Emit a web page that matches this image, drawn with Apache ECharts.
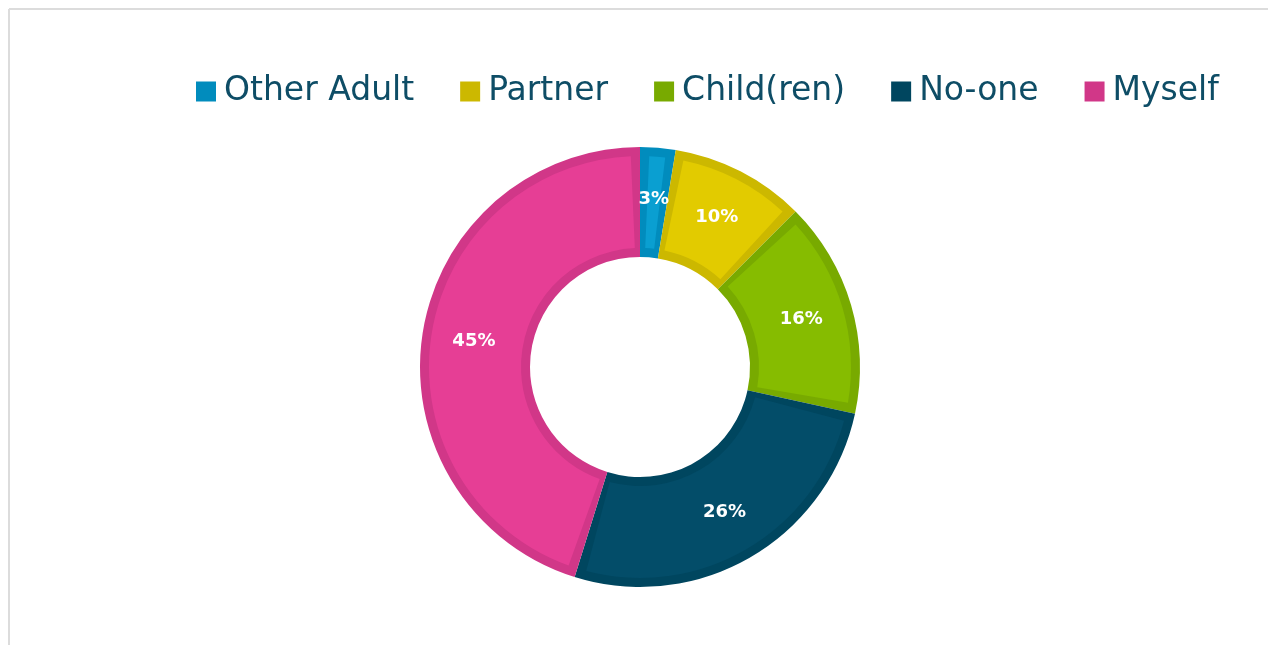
<!DOCTYPE html>
<html>
<head>
<meta charset="utf-8">
<script src="https://cdn.jsdelivr.net/npm/echarts@6/dist/echarts.min.js"></script>
<style>
	html, body { margin:0; padding:0; background:#fff; }
	#who { width:1268px; height:645px; }
</style>
</head>
<body>
<div id="who"></div>
<script>
	var names = ["Other Adult", "Partner", "Child(ren)", "No-one", "Myself"];
	var shares = [2.6, 9.9, 15.9, 26.4, 45.2];
	var fillColors = ["#0a9fd1", "#e2cb00", "#86bc00", "#034d69", "#e63e95"];
	var edgeColors = ["#018cbd", "#ccb800", "#78aa00", "#00465f", "#d13788"];

	var edgeData = [];
	var fillData = [];
	for (var i = 0; i < names.length; i++) {
		edgeData.push({ name: names[i], value: shares[i], itemStyle: { color: edgeColors[i] } });
		fillData.push({ name: names[i], value: shares[i], itemStyle: { color: fillColors[i] } });
	}

	var myChart = echarts.init(document.getElementById("who"));
	var option = {
		animation: false,
		backgroundColor: "#ffffff",
		graphic: [
			{
				type: "line",
				shape: { x1: 9, y1: 9, x2: 1268, y2: 9 },
				style: { stroke: "#dcdcdc", lineWidth: 2 },
				silent: true
			},
			{
				type: "line",
				shape: { x1: 9, y1: 9, x2: 9, y2: 645 },
				style: { stroke: "#dcdcdc", lineWidth: 2 },
				silent: true
			}
		],
		legend: {
			data: names,
			left: 196,
			top: 75,
			padding: 0,
			icon: "rect",
			itemWidth: 20,
			itemHeight: 20,
			itemGap: 46,
			textStyle: {
				fontFamily: "DejaVu Sans",
				fontSize: 33,
				color: "#0e4d66",
				padding: [0, 0, 0, 3]
			}
		},
		series: [
			{
				// darker rim under each slice
				name: "edge",
				type: "pie",
				center: [640, 367],
				radius: [110, 220],
				startAngle: 90,
				clockwise: true,
				silent: true,
				label: { show: false },
				labelLine: { show: false },
				data: edgeData
			},
			{
				name: "fill",
				type: "pie",
				center: [640, 367],
				radius: [119, 211],
				startAngle: 90,
				clockwise: true,
				padAngle: 5,
				label: {
					show: true,
					position: "inside",
					color: "#ffffff",
					fontFamily: "DejaVu Sans",
					fontWeight: "bold",
					fontSize: 18,
					formatter: function (p) {
						return Math.round(p.value) + "%";
					}
				},
				labelLine: { show: false },
				data: fillData
			}
		]
	};
	myChart.setOption(option);
</script>
</body>
</html>
